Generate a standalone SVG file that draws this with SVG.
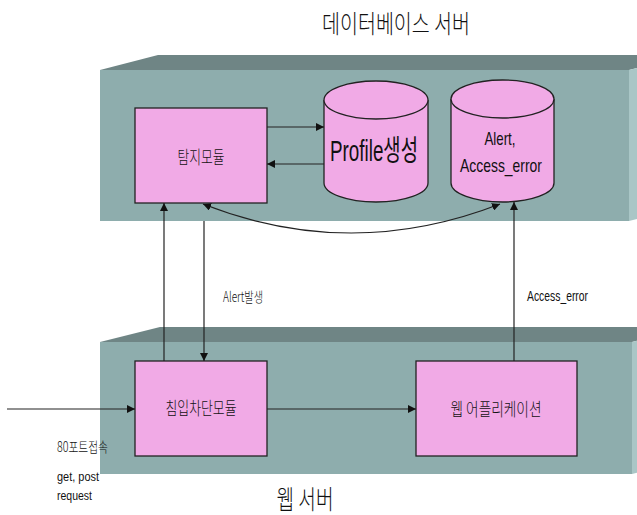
<svg xmlns="http://www.w3.org/2000/svg" width="637" height="515" viewBox="0 0 637 515">
  <style>
    .front { fill: #8eadad; }
    .top { fill: #6f8585; }
    .side { fill: #a9c6c6; }
    .node { fill: #f1aae6; stroke: #222; stroke-width: 1.3; }
    .edge { fill: none; stroke: #222; stroke-width: 1.2; }
    .lbl { font-family: "Noto Sans CJK KR", "Liberation Sans", sans-serif; font-weight: 300; fill: #111; }
    .lat { font-family: "Liberation Sans", "Noto Sans CJK KR", sans-serif; fill: #111; }
  </style>
  <defs>
    <marker id="ah" viewBox="0 0 10 10" refX="10" refY="5" markerWidth="8" markerHeight="8" markerUnits="userSpaceOnUse" orient="auto-start-reverse">
      <path d="M0,0 L10,5 L0,10 z" fill="#111"/>
    </marker>
  </defs>

  <rect width="637" height="515" fill="#ffffff"/>

  <!-- database server slab -->
  <g id="db-server">
    <polygon class="top" points="100,70 158,55 687,55 629,70"/>
    <polygon class="side" points="629,70 687,55 687,206 629,221"/>
    <rect class="front" x="100" y="70" width="529" height="151"/>
    <text class="lbl" x="396" y="33" font-size="25" text-anchor="middle" textLength="148" lengthAdjust="spacingAndGlyphs">데이터베이스 서버</text>
  </g>

  <!-- web server slab -->
  <g id="web-server">
    <polygon class="top" points="100,342 160,327 692,327 632,342"/>
    <polygon class="side" points="632,342 692,327 692,459 632,474"/>
    <rect class="front" x="100" y="342" width="532" height="132"/>
    <text class="lbl" x="305" y="509" font-size="26" text-anchor="middle" textLength="57" lengthAdjust="spacingAndGlyphs">웹 서버</text>
  </g>

  <g id="detect">
    <rect class="node" x="135" y="108" width="132" height="95"/>
    <text class="lbl" x="201" y="164" font-size="18" text-anchor="middle" textLength="47" lengthAdjust="spacingAndGlyphs">탐지모듈</text>
  </g>

  <g id="profile-db">
    <path class="node" d="M324,100 L324,183 A52,19 0 0 0 428,183 L428,100 A52,19 0 0 0 324,100 z"/>
    <path class="node" d="M324,100 A52,19 0 0 0 428,100"/>
    <text class="lat" x="374" y="161" font-size="29" text-anchor="middle" textLength="88" lengthAdjust="spacingAndGlyphs">Profile생성</text>
  </g>

  <g id="alert-db">
    <path class="node" d="M451,99 L451,183 A51.5,19 0 0 0 554,183 L554,99 A51.5,19 0 0 0 451,99 z"/>
    <path class="node" d="M451,99 A51.5,19 0 0 0 554,99"/>
    <text class="lat" x="500" y="145" font-size="19" text-anchor="middle" textLength="31" lengthAdjust="spacingAndGlyphs">Alert,</text>
    <text class="lat" x="501" y="172" font-size="19" text-anchor="middle" textLength="82" lengthAdjust="spacingAndGlyphs">Access_error</text>
  </g>

  <g id="blocker">
    <rect class="node" x="135" y="361" width="132" height="95"/>
    <text class="lbl" x="201" y="415" font-size="18" text-anchor="middle" textLength="71" lengthAdjust="spacingAndGlyphs">침입차단모듈</text>
  </g>

  <g id="webapp">
    <rect class="node" x="416" y="361" width="161" height="95"/>
    <text class="lbl" x="496" y="416" font-size="18" text-anchor="middle" textLength="91" lengthAdjust="spacingAndGlyphs">웹 어플리케이션</text>
  </g>

  <g id="connectors">
    <line class="edge" x1="267" y1="127" x2="324" y2="127" marker-end="url(#ah)"/>
    <line class="edge" x1="324" y1="164" x2="267" y2="164" marker-end="url(#ah)"/>
    <path class="edge" d="M203,204 Q351,262 500,204" marker-start="url(#ah)" marker-end="url(#ah)"/>
    <line class="edge" x1="164" y1="361" x2="164" y2="203" marker-end="url(#ah)"/>
    <line class="edge" x1="204" y1="221" x2="204" y2="361" marker-end="url(#ah)"/>
    <line class="edge" x1="514" y1="361" x2="514" y2="202" marker-end="url(#ah)"/>
    <line class="edge" x1="7" y1="409" x2="135" y2="409" marker-end="url(#ah)"/>
    <line class="edge" x1="267" y1="409" x2="416" y2="409" marker-end="url(#ah)"/>
    <text class="lbl" x="223" y="302" font-size="14" textLength="40" lengthAdjust="spacingAndGlyphs">Alert발생</text>
    <text class="lat" x="527" y="301" font-size="14" textLength="61" lengthAdjust="spacingAndGlyphs">Access_error</text>
    <text class="lbl" x="57" y="452" font-size="14" textLength="51" lengthAdjust="spacingAndGlyphs">80포트접속</text>
    <text class="lat" x="57" y="481" font-size="12" textLength="42" lengthAdjust="spacingAndGlyphs">get, post</text>
    <text class="lat" x="57" y="500" font-size="12" textLength="35" lengthAdjust="spacingAndGlyphs">request</text>
  </g>
</svg>
